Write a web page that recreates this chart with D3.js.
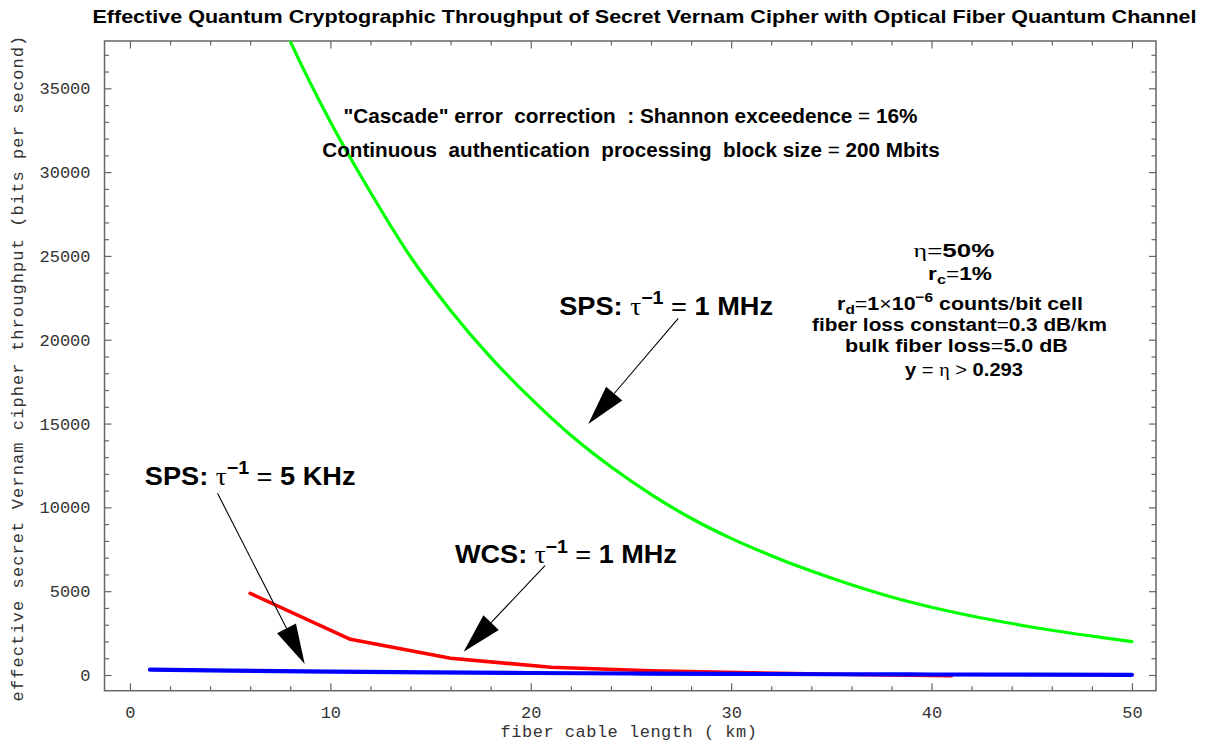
<!DOCTYPE html>
<html><head><meta charset="utf-8">
<script src="https://cdn.jsdelivr.net/npm/d3@7"></script>
<style>body{margin:0;background:#fff;} svg{display:block} text{white-space:pre}</style>
</head><body><svg id="c" width="1212" height="745"></svg>
<script>
// ---------------- data ----------------
const xMajorTicks = [0, 10, 20, 30, 40, 50];
const xMinorTicks = d3.range(0, 51, 2);
const yMajorTicks = [0, 5000, 10000, 15000, 20000, 25000, 30000, 35000];
const yMinorTicks = d3.range(0, 38000, 1000);

// SPS, tau^-1 = 1 MHz (green)
const greenKm   = [7, 8, 10, 12, 14, 16, 18, 20, 22, 24, 26, 28, 30, 32, 34, 36, 38, 40, 42, 44, 46, 48, 50];
const greenVals = [40500, 37800, 33000, 28800, 24950, 21750, 18950, 16500, 14300, 12420, 10780, 9350, 8150, 7120, 6200, 5380, 4650, 4040, 3520, 3070, 2670, 2320, 1990];
// WCS, tau^-1 = 1 MHz (red)
const redKm   = [6, 11, 16, 21, 26, 31, 36, 41];
const redVals = [4870, 2130, 1000, 460, 250, 130, 30, -40];
// SPS, tau^-1 = 5 KHz (blue)
const blueKm   = [1, 5, 10, 15, 20, 25, 30, 35, 40, 45, 50];
const blueVals = [320, 260, 200, 155, 120, 90, 65, 45, 30, 20, 12];

// annotation arrows (data coords): [x0, y0, xTip, yTip]
const arrowA = [27.36, 21280, 22.87, 14975];
const arrowB = [4.37, 10840, 8.72, 656];
const arrowC = [20.71, 6520, 16.65, 1390];

const titleText = "Effective Quantum Cryptographic Throughput of Secret Vernam Cipher with Optical Fiber Quantum Channel";
const xLabel = "fiber cable length ( km)";
const yLabel = "effective secret Vernam cipher throughput (bits per second)";

// ---------------- layout ----------------
const svg = d3.select("#c");
const L = 104.5, R = 1156, T = 41, B = 690.7;
const x = d3.scaleLinear().domain([-1.27, 51.2]).range([L, R]);
const y = d3.scaleLinear().domain([-937, 37822]).range([B, T]);

svg.append("defs").append("clipPath").attr("id", "clip")
  .append("rect").attr("x", L).attr("y", T).attr("width", R - L).attr("height", B - T);

const frameColor = "#666";
const mono = "'Liberation Mono','Courier New',monospace";
const sans = "'Liberation Sans',Arial,Helvetica,sans-serif";
const serif = "'Liberation Serif','Times New Roman',serif";

// axes: minor ticks first, then majors with labels
function styleAxis(g) {
  g.select(".domain").remove();
  g.selectAll("line").attr("stroke", frameColor).attr("stroke-width", 1.2);
  g.selectAll("text").attr("font-family", mono).attr("font-size", 17).attr("fill", "#333");
}
const minorX = xMinorTicks.filter(v => !xMajorTicks.includes(v));
const minorY = yMinorTicks.filter(v => !yMajorTicks.includes(v));

svg.append("g").attr("transform", `translate(0,${B})`)
  .call(d3.axisBottom(x).tickValues(minorX).tickSize(-4.5).tickFormat("")).call(styleAxis);
svg.append("g").attr("transform", `translate(0,${B})`)
  .call(d3.axisBottom(x).tickValues(xMajorTicks).tickSize(-7.5).tickPadding(15).tickFormat(d3.format("d"))).call(styleAxis);
svg.append("g").attr("transform", `translate(0,${T})`)
  .call(d3.axisTop(x).tickValues(minorX).tickSize(-4.5).tickFormat("")).call(styleAxis);
svg.append("g").attr("transform", `translate(0,${T})`)
  .call(d3.axisTop(x).tickValues(xMajorTicks).tickSize(-7.5).tickFormat("")).call(styleAxis);

svg.append("g").attr("transform", `translate(${L},0)`)
  .call(d3.axisLeft(y).tickValues(minorY).tickSize(-4.5).tickFormat("")).call(styleAxis);
svg.append("g").attr("transform", `translate(${L},0)`)
  .call(d3.axisLeft(y).tickValues(yMajorTicks).tickSize(-7).tickPadding(14).tickFormat(d3.format("d"))).call(styleAxis);
svg.append("g").attr("transform", `translate(${R},0)`)
  .call(d3.axisRight(y).tickValues(minorY).tickSize(-4.5).tickFormat("")).call(styleAxis);
svg.append("g").attr("transform", `translate(${R},0)`)
  .call(d3.axisRight(y).tickValues(yMajorTicks).tickSize(-7).tickFormat("")).call(styleAxis);

svg.append("rect").attr("x", L).attr("y", T).attr("width", R - L).attr("height", B - T)
  .attr("fill", "none").attr("stroke", frameColor).attr("stroke-width", 1.5);

// ---------------- series ----------------
const line = d3.line().x(d => x(d[0])).y(d => y(d[1]));
const plot = svg.append("g").attr("clip-path", "url(#clip)");
function series(km, vals, color, w, curve) {
  plot.append("path").datum(km.map((k, i) => [k, vals[i]]))
    .attr("d", line.curve(curve)).attr("fill", "none")
    .attr("stroke", color).attr("stroke-width", w)
    .attr("stroke-linejoin", "round").attr("stroke-linecap", "round");
}
series(greenKm, greenVals, "#00ff00", 3.2, d3.curveMonotoneX);
series(redKm, redVals, "#ff0000", 3.6, d3.curveLinear);
series(blueKm, blueVals, "#0000ff", 4.2, d3.curveMonotoneX);

// ---------------- arrows ----------------
function arrow(a) {
  const x0 = x(a[0]), y0 = y(a[1]), x1 = x(a[2]), y1 = y(a[3]);
  const dx = x1 - x0, dy = y1 - y0, len = Math.hypot(dx, dy);
  const ux = dx / len, uy = dy / len, hl = 40, hw = 10.6;
  const bx = x1 - ux * hl, by = y1 - uy * hl;
  svg.append("line").attr("x1", x0).attr("y1", y0).attr("x2", bx).attr("y2", by)
    .attr("stroke", "#000").attr("stroke-width", 1.1);
  svg.append("path").attr("d", `M${x1},${y1}L${bx - uy * hw},${by + ux * hw}L${bx + uy * hw},${by - ux * hw}Z`)
    .attr("fill", "#000");
}
arrow(arrowA); arrow(arrowB); arrow(arrowC);

// ---------------- text ----------------
function rich(px, py, parts, size, anchor, target) {
  const t = svg.append("text").attr("x", px).attr("y", py).attr("font-size", size)
    .attr("text-anchor", anchor).attr("font-family", sans).attr("fill", "#000");
  let shift = 0;
  parts.forEach(([s, st]) => {
    const ts = t.append("tspan").text(s);
    let fs = size, w = "bold", fam = sans, ns = 0;
    if (st.includes("n")) w = "normal";
    if (st.includes("g")) { fam = serif; w = "normal"; }
    if (st.includes("sup")) { fs = size * 0.72; ns = -size * 0.42; }
    if (st.includes("sub")) { fs = size * 0.72; ns = size * 0.22; }
    ts.attr("font-size", fs).attr("font-weight", w).attr("font-family", fam).attr("dy", ns - shift);
    shift = ns;
  });
  if (target) {
    const bw = t.node().getBBox().width;
    const s = target / bw;
    t.attr("transform", `translate(${px},0) scale(${s},1) translate(${-px},0)`);
  }
  return t;
}

rich(644.5, 23, [[titleText, "b"]], 19, "middle", 1105);

rich(630.5, 123, [["\"Cascade\" error  correction  : Shannon exceedence ", "b"], ["=", "n"], [" 16%", "b"]], 20, "middle", 575);
rich(631, 157, [["Continuous  authentication  processing  block size ", "b"], ["=", "n"], [" 200 Mbits", "b"]], 20, "middle", 618);

const pc = 960;
rich(954, 257, [["η", "g"], ["=", "n"], ["50%", "b"]], 19, "middle", 81);
rich(960, 280, [["r", "b"], ["c", "bsub"], ["=", "n"], ["1%", "b"]], 19, "middle", 64);
rich(pc, 310, [["r", "b"], ["d", "bsub"], ["=", "n"], ["1", "b"], ["×", "n"], ["10", "b"], ["−6", "bsup"], [" counts", "b"], ["/", "n"], ["bit cell", "b"]], 19, "middle", 246);
rich(959.5, 331, [["fiber loss constant", "b"], ["=", "n"], ["0.3 dB", "b"], ["/", "n"], ["km", "b"]], 19, "middle", 295);
rich(956.5, 352, [["bulk fiber loss", "b"], ["=", "n"], ["5.0 dB", "b"]], 19, "middle", 223);
rich(964, 376, [["y", "b"], [" = ", "n"], ["η", "g"], [" > ", "n"], ["0.293", "b"]], 19, "middle", 118);

function bigLabel(kx, vy, name, freq, target) {
  rich(x(kx), y(vy), [[name + ": ", "b"], ["τ", "g"], ["−1", "bsup"], [" = ", "n"], [freq, "b"]], 25, "start", target);
}
bigLabel(21.42, 21476, "SPS", "1 MHz", 214);
bigLabel(0.74, 11335, "SPS", "5 KHz", 211);
bigLabel(16.22, 6663, "WCS", "1 MHz", 222);

// axis titles
svg.append("text").attr("x", 629).attr("y", 737).attr("text-anchor", "middle")
  .attr("font-family", mono).attr("font-size", 17).attr("letter-spacing", 0.5).attr("fill", "#333").text(xLabel);
svg.append("text").attr("transform", "translate(23,368) rotate(-90)").attr("text-anchor", "middle")
  .attr("font-family", mono).attr("font-size", 17).attr("letter-spacing", 1.1).attr("fill", "#333").text(yLabel);
</script></body></html>
